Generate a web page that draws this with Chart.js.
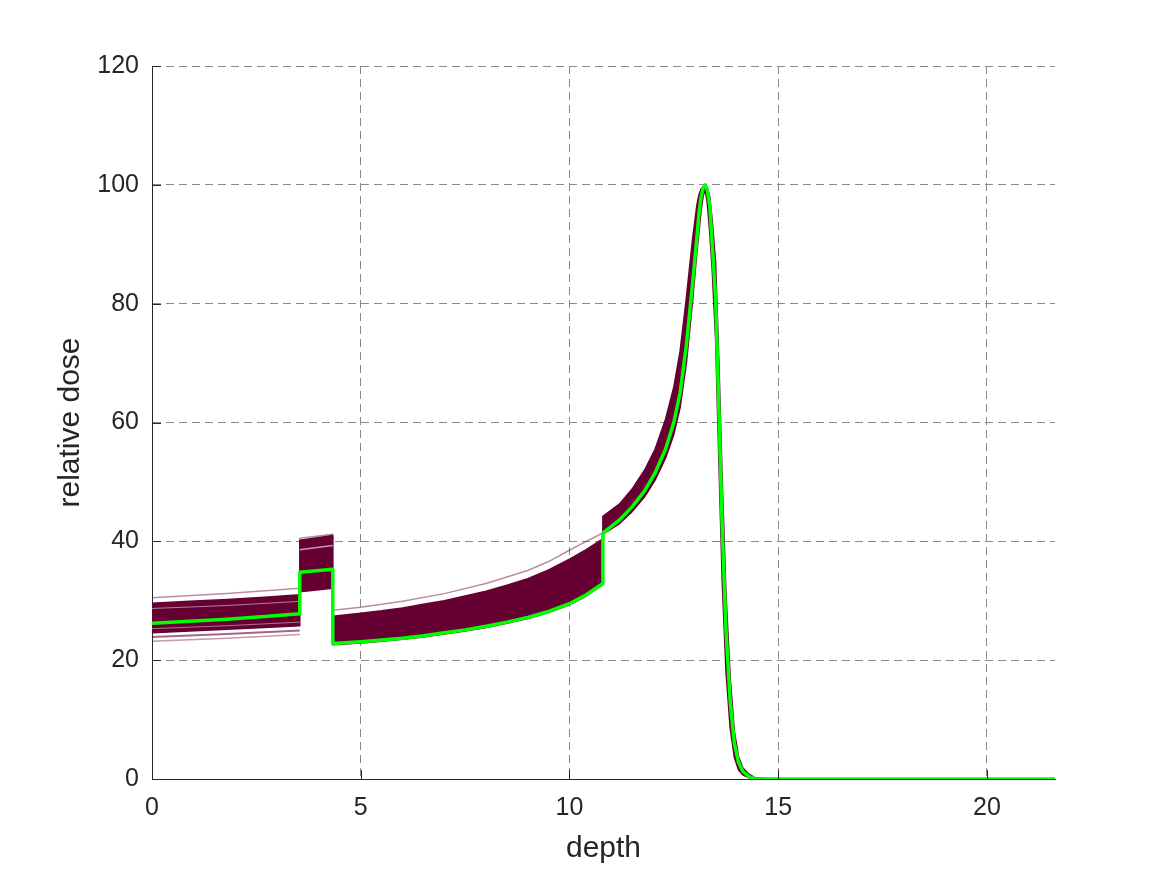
<!DOCTYPE html>
<html>
<head>
<meta charset="utf-8">
<script src="https://cdn.jsdelivr.net/npm/chart.js@4.4.1/dist/chart.umd.min.js"></script>
<style>
  html, body { margin: 0; padding: 0; background: #fff; }
  #wrap { width: 1167px; height: 875px; }
</style>
</head>
<body>
<div id="wrap"><canvas id="dose"></canvas></div>
<script>
// depth grid shared by the nominal curve and the band edges
const depth = [0, 0.9, 1.8, 2.7, 3.54, 3.54, 4.33, 4.33, 5, 5.5, 6, 6.5, 7, 7.5, 8, 8.5, 9, 9.5, 10, 10.4, 10.8,
    10.8, 11.2, 11.5, 11.8, 12.05, 12.3, 12.5, 12.65, 12.8, 12.95, 13.05, 13.1, 13.15, 13.2, 13.25, 13.3, 13.36, 13.42,
    13.5, 13.58, 13.66, 13.75, 13.85, 13.95, 14.05, 14.15, 14.3, 14.45, 15, 18, 21.63];

// nominal dose (green)
const nominal = [26.2, 26.55, 26.9, 27.35, 27.8, 34.8, 35.3, 22.8, 23.1, 23.4, 23.7, 24.1, 24.6, 25.1, 25.7, 26.4, 27.2, 28.2, 29.5, 31.0, 32.9,
    41.4, 43.6, 45.8, 48.5, 51.5, 55.5, 60, 65, 73, 83.5, 91, 95, 97.8, 99.5, 100, 99.2, 96.5, 90,
    81, 62, 42, 25, 13, 6, 2.8, 1.3, 0.4, 0, 0, 0, 0];

// scenario band: shallow-shifted edge and deep-shifted edge
const bandA = [29.6, 29.9, 30.2, 30.6, 31.0, 40.2, 41.0, 27.4, 27.9, 28.3, 28.8, 29.4, 30.0, 30.8, 31.6, 32.6, 33.7, 35.2, 37.0, 38.6, 40.4,
    44.2, 46.3, 48.8, 52, 55.5, 60.5, 66, 72, 81, 91, 96.5, 98.3, 99.3, 99.6, 99.2, 97, 92, 85.5,
    74, 53, 33, 18, 8.5, 3.6, 1.5, 0.7, 0.2, 0, 0, 0, 0];
const bandB = [24.6, 24.9, 25.2, 25.5, 25.8, 31.5, 32.1, 22.6, 22.9, 23.2, 23.5, 23.9, 24.4, 24.9, 25.5, 26.2, 27.0, 28.0, 29.3, 30.8, 32.7,
    41.2, 43.0, 45.0, 47.5, 50.3, 54, 58, 62.5, 70, 80.5, 88.5, 92, 95.5, 98, 99.3, 99.5, 98, 94,
    87, 70, 50, 31, 17, 8, 3.8, 1.9, 0.8, 0.2, 0, 0, 0];

// lighter outlier scenarios
const lightTopDepth = [0, 1.8, 3.54, 3.54, 4.33, 4.33, 5, 6, 7, 8, 9, 9.5, 10, 10.4, 10.8];
const lightTop = [30.5, 31.2, 32.1, 40.5, 41.2, 28.4, 28.9, 29.9, 31.2, 32.9, 35.1, 36.6, 38.5, 40.0, 41.4];
const lightLowDepth = [0, 1.8, 3.54];
const lightLow1 = [23.2, 23.7, 24.3];
const lightLow2 = [23.9, 24.4, 25.0];
const gapDepth = [0, 1.8, 3.54];
const gapLine1 = [28.7, 29.2, 29.9];
const gapLine2 = [25.3, 25.8, 26.4];
const gapMidDepth = [3.54, 4.33];
const gapMid = [38.6, 39.3];

const xTicks = [0, 5, 10, 15, 20];
const yTicks = [0, 20, 40, 60, 80, 100, 120];

const DARK = '#660033';
const TXT = '#262626';
const FONT = "'Liberation Sans', Arial, Helvetica, sans-serif";
const pts = (xs, ys) => xs.map((x, i) => ({ x, y: ys[i] }));

// MATLAB style inward tick marks
const innerTicks = {
    id: 'innerTicks',
    afterDraw(chart) {
        const { ctx, chartArea: a, scales: { x, y } } = chart;
        ctx.save();
        ctx.strokeStyle = TXT;
        ctx.lineWidth = 1;
        ctx.beginPath();
        xTicks.forEach(v => {
            const px = Math.round(x.getPixelForValue(v)) + 0.5;
            ctx.moveTo(px, a.bottom);
            ctx.lineTo(px, a.bottom - 9);
        });
        yTicks.forEach(v => {
            const py = Math.round(y.getPixelForValue(v)) + 0.5;
            ctx.moveTo(a.left, py);
            ctx.lineTo(a.left + 9, py);
        });
        ctx.stroke();
        ctx.restore();
    }
};

new Chart(document.getElementById('dose'), {
    type: 'line',
    data: {
        datasets: [
            { data: pts(depth, nominal), borderColor: '#00ff00', borderWidth: 3.5, order: 0 },
            { data: pts(gapDepth, gapLine1), borderColor: 'rgba(255,255,255,0.5)', borderWidth: 1, order: 1 },
            { data: pts(gapDepth, gapLine2), borderColor: 'rgba(255,255,255,0.45)', borderWidth: 1, order: 1 },
            { data: pts(gapMidDepth, gapMid), borderColor: 'rgba(255,255,255,0.6)', borderWidth: 1.5, order: 1 },
            { data: pts(depth, bandA), borderColor: DARK, borderWidth: 1.5, order: 3 },
            { data: pts(depth, bandB), borderColor: DARK, borderWidth: 1.5, backgroundColor: DARK, fill: 4, order: 3 },
            { data: pts(lightTopDepth, lightTop), borderColor: 'rgba(102,0,51,0.45)', borderWidth: 1.5, order: 4 },
            { data: pts(lightLowDepth, lightLow1), borderColor: 'rgba(102,0,51,0.4)', borderWidth: 1.5, order: 4 },
            { data: pts(lightLowDepth, lightLow2), borderColor: 'rgba(102,0,51,0.6)', borderWidth: 2, order: 4 },
        ]
    },
    options: {
        responsive: true,
        maintainAspectRatio: false,
        animation: false,
        layout: { padding: { left: 0, top: 66, right: 112, bottom: 0 } },
        elements: { point: { radius: 0 }, line: { tension: 0, borderJoinStyle: 'round' } },
        plugins: { legend: { display: false }, tooltip: { enabled: false } },
        scales: {
            x: {
                type: 'linear',
                min: 0,
                max: 21.63,
                afterFit: s => { s.height = 96; },
                ticks: { stepSize: 5, includeBounds: false, color: TXT, font: { family: FONT, size: 25 }, padding: 14, maxRotation: 0 },
                grid: { color: '#8a8a8a', drawTicks: false },
                border: { display: true, color: TXT, width: 1, dash: [8, 5] },
                title: { display: true, text: 'depth', color: TXT, font: { family: FONT, size: 30 }, padding: { top: 0, bottom: 8 } },
            },
            y: {
                min: 0,
                max: 120,
                afterFit: s => { s.width = 152; },
                ticks: { stepSize: 20, color: TXT, font: { family: FONT, size: 25 }, padding: 13 },
                grid: { color: '#8a8a8a', drawTicks: false },
                border: { display: true, color: TXT, width: 1, dash: [8, 5] },
                title: { display: true, text: 'relative dose', color: TXT, font: { family: FONT, size: 30 }, padding: { top: 53, bottom: 0 } },
            }
        }
    },
    plugins: [innerTicks]
});
</script>
</body>
</html>
